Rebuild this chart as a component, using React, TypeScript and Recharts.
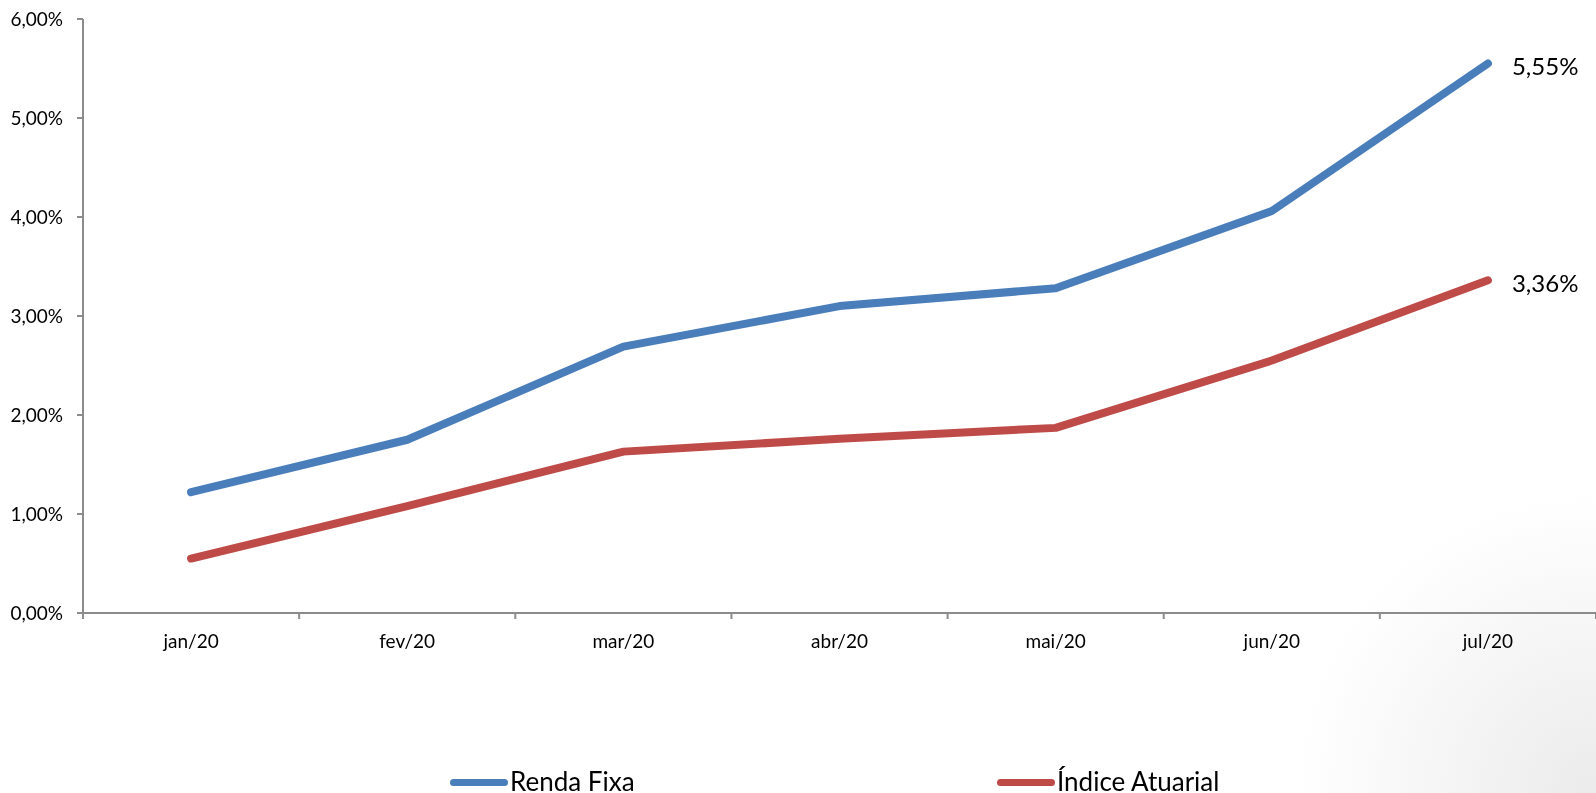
import { Legend, Line, LineChart, XAxis, YAxis, LabelList } from "recharts";

const months = ["jan/20", "fev/20", "mar/20", "abr/20", "mai/20", "jun/20", "jul/20"];
const rendaFixa = [1.22, 1.75, 2.69, 3.1, 3.28, 4.06, 5.55];
const indiceAtuarial = [0.55, 1.08, 1.63, 1.76, 1.87, 2.55, 3.36];
const yTicks = [0, 1, 2, 3, 4, 5, 6];
const boundaryTicks = [0, 1, 2, 3, 4, 5, 6, 7];

const BLUE = "#4A7EBB";
const RED = "#BE4B48";
const AXIS = "#8C8C8C";
const FONT = "Lato, 'Open Sans', sans-serif";

const data = months.map((m, i) => ({
  month: m,
  x: i + 0.5,
  renda: rendaFixa[i],
  indice: indiceAtuarial[i],
}));

const fmtPct = (v: number) => v.toFixed(2).replace(".", ",") + "%";

const lastIndex = months.length - 1;

function EndLabel(props: any) {
  const { x, y, value, index } = props;
  if (index !== lastIndex) return null;
  return (
    <text x={x + 24} y={y + 2} dominantBaseline="central" fontFamily={FONT} fontSize={24} fill="#000">
      {fmtPct(value)}
    </text>
  );
}

const legendItems = [
  { name: "Renda Fixa", color: BLUE },
  { name: "Índice Atuarial", color: RED },
];

function ChartLegend() {
  return (
    <div style={{ display: "flex", paddingLeft: 450, fontFamily: FONT, fontSize: 26, color: "#000" }}>
      {legendItems.map((it) => (
        <div key={it.name} style={{ width: 547, display: "flex", alignItems: "flex-start", lineHeight: "26px" }}>
          <span
            style={{
              display: "inline-block",
              width: 58,
              height: 7,
              borderRadius: 4,
              background: it.color,
              marginTop: 11,
              marginRight: 2,
            }}
          />
          <span>{it.name}</span>
        </div>
      ))}
    </div>
  );
}

export default function App() {
  return (
    <div
      style={{
        position: "fixed",
        left: 0,
        top: 0,
        width: 1596,
        height: 793,
        overflow: "hidden",
        background: "radial-gradient(circle at 100% 100%, #ebebeb 0px, #ffffff 300px)",
      }}
    >
      <LineChart width={1596} height={793} data={data} margin={{ top: 19, right: 0, left: 0, bottom: 135 }}>
        <YAxis
          type="number"
          domain={[0, 6]}
          ticks={yTicks}
          width={83}
          tickFormatter={fmtPct}
          axisLine={{ stroke: AXIS, strokeWidth: 2 }}
          tickLine={{ stroke: AXIS, strokeWidth: 2 }}
          tickSize={6}
          tickMargin={14}
          tick={{ fontFamily: FONT, fontSize: 19, fill: "#000" }}
        />
        <XAxis
          xAxisId="a1"
          type="number"
          dataKey="x"
          domain={[0, 7]}
          ticks={boundaryTicks}
          height={15}
          axisLine={{ stroke: AXIS, strokeWidth: 2 }}
          tickLine={{ stroke: AXIS, strokeWidth: 2 }}
          tickSize={6}
          tickFormatter={() => ""}
        />
        <XAxis
          xAxisId="a2"
          type="category"
          scale="band"
          dataKey="month"
          height={30}
          axisLine={false}
          tickLine={false}
          tickSize={0}
          tickMargin={7}
          interval={0}
          tick={{ fontFamily: FONT, fontSize: 19, fill: "#000" }}
        />
        <Line
          xAxisId="a1"
          dataKey="renda"
          name="Renda Fixa"
          stroke={BLUE}
          strokeWidth={8}
          strokeLinecap="round"
          strokeLinejoin="round"
          dot={false}
          activeDot={false}
          isAnimationActive={false}
        >
          <LabelList dataKey="renda" content={EndLabel} />
        </Line>
        <Line
          xAxisId="a1"
          dataKey="indice"
          name="Índice Atuarial"
          stroke={RED}
          strokeWidth={8}
          strokeLinecap="round"
          strokeLinejoin="round"
          dot={false}
          activeDot={false}
          isAnimationActive={false}
        >
          <LabelList dataKey="indice" content={EndLabel} />
        </Line>
        <Legend
          verticalAlign="middle"
          content={ChartLegend}
          wrapperStyle={{ position: "absolute", left: 0, top: 768, width: 1596 }}
        />
      </LineChart>
    </div>
  );
}
